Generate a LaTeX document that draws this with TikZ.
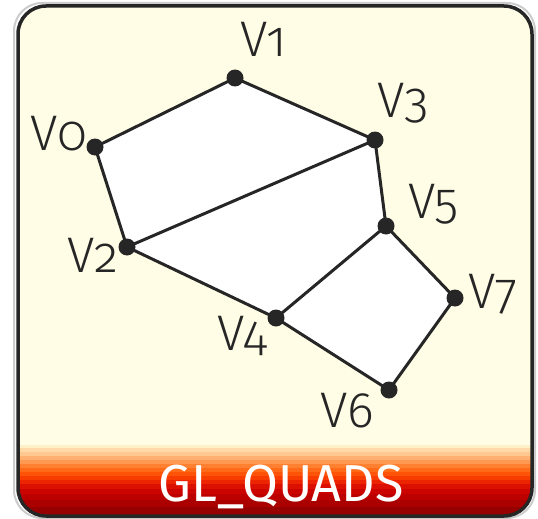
\documentclass[tikz,border=0pt]{standalone}
\usepackage{fontspec}
\setmainfont{Fira Sans Light}[Numbers=OldStyle]
\newfontfamily\titlefont{Fira Sans}
\usetikzlibrary{positioning}
\definecolor{cream}{HTML}{FFFDE6}
\definecolor{ink}{HTML}{262626}
% bands of the title bar, top to bottom
\definecolor{band1}{HTML}{FFF0C8}
\definecolor{band2}{HTML}{FFDAA8}
\definecolor{band3}{HTML}{FFC890}
\definecolor{band4}{HTML}{FFB070}
\definecolor{band5}{HTML}{FF9850}
\definecolor{band6}{HTML}{FF8030}
\definecolor{band7}{HTML}{FF6A18}
\definecolor{band8}{HTML}{FF5408}
\definecolor{band9}{HTML}{F83C00}
\definecolor{band10}{HTML}{EC2400}
\definecolor{band11}{HTML}{DC1000}
\definecolor{band12}{HTML}{CC0400}
\definecolor{band13}{HTML}{BC0000}
\definecolor{band14}{HTML}{AA0000}
\definecolor{band15}{HTML}{960000}

\begin{document}
\begin{tikzpicture}[x=1pt, y=-1pt,
    vx/.style={circle, fill=ink, inner sep=0pt, minimum size=17pt},
    lbl/.style={font=\fontsize{50}{50}\selectfont, text=ink, inner sep=0pt, anchor=base west},
    ed/.style={line width=3pt, draw=ink, line join=round},
    frame/.style={rounded corners=28pt}
]
\useasboundingbox (0,0) rectangle (538,519);
\path[frame, fill=cream] (18,6) rectangle (532,516);
\begin{scope}
  \clip[frame] (18,6) rectangle (532,516);
  \foreach \ya/\yb [count=\i] in {445/448,448/452,452/456,456/460,460/464,464/468,468/472,472/476,476/480,480/484,484/489,489/494,494/500,500/507,507/519}
    \fill[band\i] (10,\ya) rectangle (540,\yb+0.5);
\end{scope}
\path[frame, draw=black!20, line width=2pt] (14,3) rectangle (535,518);
\path[frame, draw=ink, line width=3.5pt] (18,6) rectangle (532,516);

% vertices
\coordinate (v0) at (95,147);
\coordinate (v1) at (235,78);
\coordinate (v2) at (127,247);
\coordinate (v3) at (375,140);
\coordinate (v4) at (276,318);
\coordinate (v5) at (386,226);
\coordinate (v6) at (389,390);
\coordinate (v7) at (455,298);

% quads
\fill[white] (v0)--(v1)--(v3)--(v2)--cycle;
\fill[white] (v2)--(v3)--(v5)--(v4)--cycle;
\fill[white] (v4)--(v5)--(v7)--(v6)--cycle;
\draw[ed] (v0)--(v1)--(v3)--(v5)--(v7)--(v6)--(v4)--(v2)--cycle;
\draw[ed] (v2)--(v3);
\draw[ed] (v4)--(v5);
\foreach \v in {v0,v1,v2,v3,v4,v5,v6,v7}
  \node[vx] at (\v) {};

% labels
\node[lbl] (l0) at (30,150) {V0};
\node[lbl] (l1) at (240,57) {V1};
\node[lbl] (l2) at (67,272) {V2};
\node[lbl] (l3) at (377,117) {V3};
\node[lbl] (l4) at (217,350) {V4};
\node[lbl] (l5) at (408,218) {V5};
\node[lbl] (l6) at (320,427) {V6};
\node[lbl] (l7) at (468,308) {V7};

\node[font=\titlefont\fontsize{52}{52}\selectfont, text=white, anchor=base, inner sep=0pt] (title) at (281,501) {GL\_QUADS};
\end{tikzpicture}
\end{document}
